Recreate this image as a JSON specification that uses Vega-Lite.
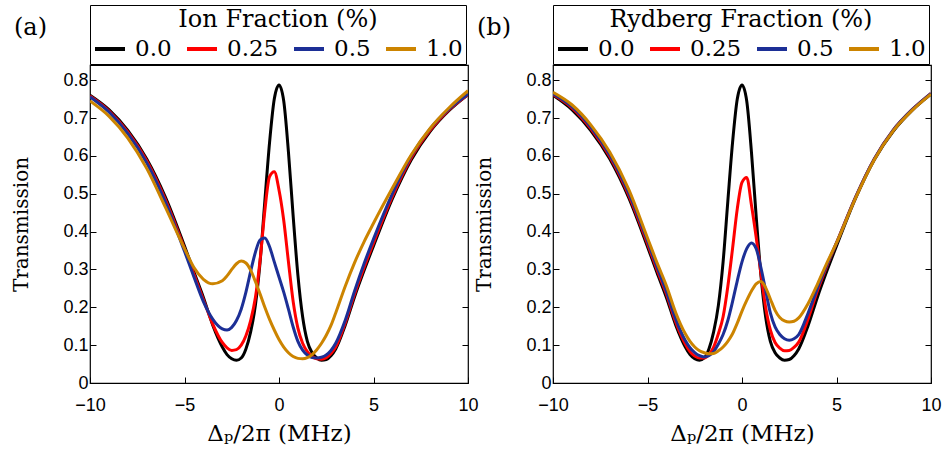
{
  "$schema": "https://vega.github.io/schema/vega-lite/v6.json",
  "background": "white",
  "padding": {"left": 11, "top": 3, "right": 0, "bottom": 0},
  "config": {
    "view": {"stroke": "black", "strokeWidth": 1.2},
    "axis": {"labelFont": "Liberation Sans", "labelFontSize": 18, "labelColor": "#000", "titleFont": "DejaVu Serif", "titleFontSize": 21, "titleFontWeight": "normal", "titleColor": "#000", "domain": false, "grid": false, "tickColor": "#000", "tickSize": -6, "labelPadding": 8, "labelFlush": false},
    "legend": {"orient": "none", "legendX": 0, "legendY": -60, "direction": "horizontal", "titleAnchor": "middle", "titleOrient": "top", "symbolType": "stroke", "symbolStrokeWidth": 4, "symbolSize": 900, "labelFont": "DejaVu Serif", "labelFontSize": 23, "labelColor": "#000", "titleFont": "DejaVu Serif", "titleFontSize": 24, "titleFontWeight": "normal", "titleColor": "#000", "titleLimit": 400, "strokeColor": "black", "padding": 3, "columnPadding": 7, "labelOffset": 8, "titlePadding": 0},
    "title": {"font": "DejaVu Serif", "fontSize": 24, "fontWeight": "normal", "color": "#000", "anchor": "start", "frame": "group"}
  },
  "datasets": {
    "ion": [
      {"x":-10,"T":0.760,"f":"0.0"},{"x":-9,"T":0.722,"f":"0.0"},{"x":-8,"T":0.667,"f":"0.0"},{"x":-7,"T":0.592,"f":"0.0"},{"x":-6,"T":0.490,"f":"0.0"},{"x":-5,"T":0.362,"f":"0.0"},{"x":-4.5,"T":0.293,"f":"0.0"},{"x":-4,"T":0.226,"f":"0.0"},{"x":-3.5,"T":0.152,"f":"0.0"},{"x":-3,"T":0.095,"f":"0.0"},{"x":-2.75,"T":0.075,"f":"0.0"},{"x":-2.5,"T":0.064,"f":"0.0"},{"x":-2.25,"T":0.060,"f":"0.0"},{"x":-2,"T":0.066,"f":"0.0"},{"x":-1.75,"T":0.09,"f":"0.0"},{"x":-1.5,"T":0.135,"f":"0.0"},{"x":-1.25,"T":0.205,"f":"0.0"},{"x":-1,"T":0.32,"f":"0.0"},{"x":-0.75,"T":0.48,"f":"0.0"},{"x":-0.5,"T":0.635,"f":"0.0"},{"x":-0.25,"T":0.75,"f":"0.0"},{"x":0,"T":0.787,"f":"0.0"},{"x":0.25,"T":0.745,"f":"0.0"},{"x":0.5,"T":0.61,"f":"0.0"},{"x":0.75,"T":0.44,"f":"0.0"},{"x":1,"T":0.285,"f":"0.0"},{"x":1.25,"T":0.175,"f":"0.0"},{"x":1.5,"T":0.11,"f":"0.0"},{"x":1.75,"T":0.08,"f":"0.0"},{"x":2,"T":0.066,"f":"0.0"},{"x":2.25,"T":0.060,"f":"0.0"},{"x":2.5,"T":0.062,"f":"0.0"},{"x":2.75,"T":0.072,"f":"0.0"},{"x":3,"T":0.09,"f":"0.0"},{"x":3.5,"T":0.152,"f":"0.0"},{"x":4,"T":0.228,"f":"0.0"},{"x":4.5,"T":0.297,"f":"0.0"},{"x":5,"T":0.362,"f":"0.0"},{"x":6,"T":0.487,"f":"0.0"},{"x":7,"T":0.59,"f":"0.0"},{"x":8,"T":0.665,"f":"0.0"},{"x":9,"T":0.72,"f":"0.0"},{"x":10,"T":0.762,"f":"0.0"},
      {"x":-10,"T":0.758,"f":"0.25"},{"x":-9,"T":0.719,"f":"0.25"},{"x":-8,"T":0.663,"f":"0.25"},{"x":-7,"T":0.587,"f":"0.25"},{"x":-6,"T":0.483,"f":"0.25"},{"x":-5,"T":0.355,"f":"0.25"},{"x":-4.5,"T":0.287,"f":"0.25"},{"x":-4,"T":0.22,"f":"0.25"},{"x":-3.5,"T":0.155,"f":"0.25"},{"x":-3,"T":0.107,"f":"0.25"},{"x":-2.75,"T":0.093,"f":"0.25"},{"x":-2.5,"T":0.086,"f":"0.25"},{"x":-2.25,"T":0.088,"f":"0.25"},{"x":-2,"T":0.10,"f":"0.25"},{"x":-1.75,"T":0.125,"f":"0.25"},{"x":-1.5,"T":0.165,"f":"0.25"},{"x":-1.25,"T":0.225,"f":"0.25"},{"x":-1,"T":0.325,"f":"0.25"},{"x":-0.75,"T":0.455,"f":"0.25"},{"x":-0.5,"T":0.545,"f":"0.25"},{"x":-0.25,"T":0.558,"f":"0.25"},{"x":0,"T":0.51,"f":"0.25"},{"x":0.25,"T":0.43,"f":"0.25"},{"x":0.5,"T":0.32,"f":"0.25"},{"x":0.75,"T":0.215,"f":"0.25"},{"x":1,"T":0.145,"f":"0.25"},{"x":1.25,"T":0.105,"f":"0.25"},{"x":1.5,"T":0.083,"f":"0.25"},{"x":1.75,"T":0.07,"f":"0.25"},{"x":2,"T":0.064,"f":"0.25"},{"x":2.25,"T":0.063,"f":"0.25"},{"x":2.5,"T":0.067,"f":"0.25"},{"x":2.75,"T":0.078,"f":"0.25"},{"x":3,"T":0.095,"f":"0.25"},{"x":3.5,"T":0.158,"f":"0.25"},{"x":4,"T":0.235,"f":"0.25"},{"x":4.5,"T":0.305,"f":"0.25"},{"x":5,"T":0.37,"f":"0.25"},{"x":6,"T":0.493,"f":"0.25"},{"x":7,"T":0.595,"f":"0.25"},{"x":8,"T":0.668,"f":"0.25"},{"x":9,"T":0.722,"f":"0.25"},{"x":10,"T":0.762,"f":"0.25"},
      {"x":-10,"T":0.756,"f":"0.5"},{"x":-9,"T":0.716,"f":"0.5"},{"x":-8,"T":0.659,"f":"0.5"},{"x":-7,"T":0.582,"f":"0.5"},{"x":-6,"T":0.477,"f":"0.5"},{"x":-5,"T":0.348,"f":"0.5"},{"x":-4.5,"T":0.28,"f":"0.5"},{"x":-4,"T":0.215,"f":"0.5"},{"x":-3.5,"T":0.168,"f":"0.5"},{"x":-3,"T":0.143,"f":"0.5"},{"x":-2.75,"T":0.140,"f":"0.5"},{"x":-2.5,"T":0.147,"f":"0.5"},{"x":-2.25,"T":0.165,"f":"0.5"},{"x":-2,"T":0.195,"f":"0.5"},{"x":-1.75,"T":0.24,"f":"0.5"},{"x":-1.5,"T":0.295,"f":"0.5"},{"x":-1.25,"T":0.345,"f":"0.5"},{"x":-1,"T":0.378,"f":"0.5"},{"x":-0.75,"T":0.383,"f":"0.5"},{"x":-0.5,"T":0.36,"f":"0.5"},{"x":-0.25,"T":0.32,"f":"0.5"},{"x":0,"T":0.28,"f":"0.5"},{"x":0.25,"T":0.24,"f":"0.5"},{"x":0.5,"T":0.195,"f":"0.5"},{"x":0.75,"T":0.148,"f":"0.5"},{"x":1,"T":0.11,"f":"0.5"},{"x":1.25,"T":0.087,"f":"0.5"},{"x":1.5,"T":0.074,"f":"0.5"},{"x":1.75,"T":0.067,"f":"0.5"},{"x":2,"T":0.066,"f":"0.5"},{"x":2.25,"T":0.068,"f":"0.5"},{"x":2.5,"T":0.074,"f":"0.5"},{"x":2.75,"T":0.086,"f":"0.5"},{"x":3,"T":0.105,"f":"0.5"},{"x":3.5,"T":0.165,"f":"0.5"},{"x":4,"T":0.243,"f":"0.5"},{"x":4.5,"T":0.315,"f":"0.5"},{"x":5,"T":0.38,"f":"0.5"},{"x":6,"T":0.50,"f":"0.5"},{"x":7,"T":0.60,"f":"0.5"},{"x":8,"T":0.672,"f":"0.5"},{"x":9,"T":0.724,"f":"0.5"},{"x":10,"T":0.763,"f":"0.5"},
      {"x":-10,"T":0.745,"f":"1.0"},{"x":-9,"T":0.705,"f":"1.0"},{"x":-8,"T":0.647,"f":"1.0"},{"x":-7,"T":0.567,"f":"1.0"},{"x":-6,"T":0.463,"f":"1.0"},{"x":-5,"T":0.355,"f":"1.0"},{"x":-4.5,"T":0.305,"f":"1.0"},{"x":-4,"T":0.274,"f":"1.0"},{"x":-3.5,"T":0.262,"f":"1.0"},{"x":-3,"T":0.27,"f":"1.0"},{"x":-2.75,"T":0.283,"f":"1.0"},{"x":-2.5,"T":0.30,"f":"1.0"},{"x":-2.25,"T":0.315,"f":"1.0"},{"x":-2,"T":0.322,"f":"1.0"},{"x":-1.75,"T":0.317,"f":"1.0"},{"x":-1.5,"T":0.298,"f":"1.0"},{"x":-1.25,"T":0.268,"f":"1.0"},{"x":-1,"T":0.235,"f":"1.0"},{"x":-0.75,"T":0.20,"f":"1.0"},{"x":-0.5,"T":0.168,"f":"1.0"},{"x":-0.25,"T":0.14,"f":"1.0"},{"x":0,"T":0.115,"f":"1.0"},{"x":0.25,"T":0.095,"f":"1.0"},{"x":0.5,"T":0.08,"f":"1.0"},{"x":0.75,"T":0.07,"f":"1.0"},{"x":1,"T":0.065,"f":"1.0"},{"x":1.25,"T":0.064,"f":"1.0"},{"x":1.5,"T":0.067,"f":"1.0"},{"x":1.75,"T":0.075,"f":"1.0"},{"x":2,"T":0.088,"f":"1.0"},{"x":2.25,"T":0.105,"f":"1.0"},{"x":2.5,"T":0.126,"f":"1.0"},{"x":2.75,"T":0.152,"f":"1.0"},{"x":3,"T":0.185,"f":"1.0"},{"x":3.5,"T":0.255,"f":"1.0"},{"x":4,"T":0.318,"f":"1.0"},{"x":4.5,"T":0.373,"f":"1.0"},{"x":5,"T":0.422,"f":"1.0"},{"x":6,"T":0.515,"f":"1.0"},{"x":7,"T":0.603,"f":"1.0"},{"x":8,"T":0.673,"f":"1.0"},{"x":9,"T":0.727,"f":"1.0"},{"x":10,"T":0.772,"f":"1.0"}
    ],
    "ryd": [
      {"x":-10,"T":0.760,"f":"0.0"},{"x":-9,"T":0.722,"f":"0.0"},{"x":-8,"T":0.667,"f":"0.0"},{"x":-7,"T":0.592,"f":"0.0"},{"x":-6,"T":0.490,"f":"0.0"},{"x":-5,"T":0.360,"f":"0.0"},{"x":-4.5,"T":0.292,"f":"0.0"},{"x":-4,"T":0.226,"f":"0.0"},{"x":-3.5,"T":0.152,"f":"0.0"},{"x":-3,"T":0.095,"f":"0.0"},{"x":-2.75,"T":0.075,"f":"0.0"},{"x":-2.5,"T":0.064,"f":"0.0"},{"x":-2.25,"T":0.060,"f":"0.0"},{"x":-2,"T":0.066,"f":"0.0"},{"x":-1.75,"T":0.09,"f":"0.0"},{"x":-1.5,"T":0.135,"f":"0.0"},{"x":-1.25,"T":0.205,"f":"0.0"},{"x":-1,"T":0.32,"f":"0.0"},{"x":-0.75,"T":0.48,"f":"0.0"},{"x":-0.5,"T":0.635,"f":"0.0"},{"x":-0.25,"T":0.75,"f":"0.0"},{"x":0,"T":0.787,"f":"0.0"},{"x":0.25,"T":0.745,"f":"0.0"},{"x":0.5,"T":0.61,"f":"0.0"},{"x":0.75,"T":0.44,"f":"0.0"},{"x":1,"T":0.285,"f":"0.0"},{"x":1.25,"T":0.175,"f":"0.0"},{"x":1.5,"T":0.11,"f":"0.0"},{"x":1.75,"T":0.08,"f":"0.0"},{"x":2,"T":0.066,"f":"0.0"},{"x":2.25,"T":0.060,"f":"0.0"},{"x":2.5,"T":0.062,"f":"0.0"},{"x":2.75,"T":0.072,"f":"0.0"},{"x":3,"T":0.09,"f":"0.0"},{"x":3.5,"T":0.152,"f":"0.0"},{"x":4,"T":0.228,"f":"0.0"},{"x":4.5,"T":0.297,"f":"0.0"},{"x":5,"T":0.362,"f":"0.0"},{"x":6,"T":0.487,"f":"0.0"},{"x":7,"T":0.59,"f":"0.0"},{"x":8,"T":0.665,"f":"0.0"},{"x":9,"T":0.72,"f":"0.0"},{"x":10,"T":0.763,"f":"0.0"},
      {"x":-10,"T":0.762,"f":"0.25"},{"x":-9,"T":0.727,"f":"0.25"},{"x":-8,"T":0.672,"f":"0.25"},{"x":-7,"T":0.598,"f":"0.25"},{"x":-6,"T":0.497,"f":"0.25"},{"x":-5,"T":0.368,"f":"0.25"},{"x":-4.5,"T":0.30,"f":"0.25"},{"x":-4,"T":0.235,"f":"0.25"},{"x":-3.5,"T":0.16,"f":"0.25"},{"x":-3,"T":0.103,"f":"0.25"},{"x":-2.75,"T":0.083,"f":"0.25"},{"x":-2.5,"T":0.071,"f":"0.25"},{"x":-2.25,"T":0.066,"f":"0.25"},{"x":-2,"T":0.066,"f":"0.25"},{"x":-1.75,"T":0.075,"f":"0.25"},{"x":-1.5,"T":0.095,"f":"0.25"},{"x":-1.25,"T":0.13,"f":"0.25"},{"x":-1,"T":0.175,"f":"0.25"},{"x":-0.75,"T":0.255,"f":"0.25"},{"x":-0.5,"T":0.355,"f":"0.25"},{"x":-0.25,"T":0.46,"f":"0.25"},{"x":0,"T":0.53,"f":"0.25"},{"x":0.25,"T":0.543,"f":"0.25"},{"x":0.5,"T":0.47,"f":"0.25"},{"x":0.75,"T":0.385,"f":"0.25"},{"x":1,"T":0.29,"f":"0.25"},{"x":1.25,"T":0.20,"f":"0.25"},{"x":1.5,"T":0.14,"f":"0.25"},{"x":1.75,"T":0.107,"f":"0.25"},{"x":2,"T":0.092,"f":"0.25"},{"x":2.25,"T":0.085,"f":"0.25"},{"x":2.5,"T":0.086,"f":"0.25"},{"x":2.75,"T":0.094,"f":"0.25"},{"x":3,"T":0.108,"f":"0.25"},{"x":3.5,"T":0.17,"f":"0.25"},{"x":4,"T":0.245,"f":"0.25"},{"x":4.5,"T":0.31,"f":"0.25"},{"x":5,"T":0.37,"f":"0.25"},{"x":6,"T":0.49,"f":"0.25"},{"x":7,"T":0.592,"f":"0.25"},{"x":8,"T":0.668,"f":"0.25"},{"x":9,"T":0.722,"f":"0.25"},{"x":10,"T":0.765,"f":"0.25"},
      {"x":-10,"T":0.764,"f":"0.5"},{"x":-9,"T":0.73,"f":"0.5"},{"x":-8,"T":0.676,"f":"0.5"},{"x":-7,"T":0.603,"f":"0.5"},{"x":-6,"T":0.503,"f":"0.5"},{"x":-5,"T":0.375,"f":"0.5"},{"x":-4.5,"T":0.307,"f":"0.5"},{"x":-4,"T":0.242,"f":"0.5"},{"x":-3.5,"T":0.168,"f":"0.5"},{"x":-3,"T":0.112,"f":"0.5"},{"x":-2.75,"T":0.093,"f":"0.5"},{"x":-2.5,"T":0.08,"f":"0.5"},{"x":-2.25,"T":0.072,"f":"0.5"},{"x":-2,"T":0.069,"f":"0.5"},{"x":-1.75,"T":0.072,"f":"0.5"},{"x":-1.5,"T":0.083,"f":"0.5"},{"x":-1.25,"T":0.103,"f":"0.5"},{"x":-1,"T":0.128,"f":"0.5"},{"x":-0.75,"T":0.165,"f":"0.5"},{"x":-0.5,"T":0.215,"f":"0.5"},{"x":-0.25,"T":0.27,"f":"0.5"},{"x":0,"T":0.32,"f":"0.5"},{"x":0.25,"T":0.355,"f":"0.5"},{"x":0.5,"T":0.37,"f":"0.5"},{"x":0.75,"T":0.355,"f":"0.5"},{"x":1,"T":0.305,"f":"0.5"},{"x":1.25,"T":0.245,"f":"0.5"},{"x":1.5,"T":0.185,"f":"0.5"},{"x":1.75,"T":0.148,"f":"0.5"},{"x":2,"T":0.128,"f":"0.5"},{"x":2.25,"T":0.117,"f":"0.5"},{"x":2.5,"T":0.113,"f":"0.5"},{"x":2.75,"T":0.117,"f":"0.5"},{"x":3,"T":0.128,"f":"0.5"},{"x":3.5,"T":0.185,"f":"0.5"},{"x":4,"T":0.252,"f":"0.5"},{"x":4.5,"T":0.313,"f":"0.5"},{"x":5,"T":0.37,"f":"0.5"},{"x":6,"T":0.49,"f":"0.5"},{"x":7,"T":0.592,"f":"0.5"},{"x":8,"T":0.668,"f":"0.5"},{"x":9,"T":0.722,"f":"0.5"},{"x":10,"T":0.765,"f":"0.5"},
      {"x":-10,"T":0.768,"f":"1.0"},{"x":-9,"T":0.735,"f":"1.0"},{"x":-8,"T":0.682,"f":"1.0"},{"x":-7,"T":0.61,"f":"1.0"},{"x":-6,"T":0.512,"f":"1.0"},{"x":-5,"T":0.383,"f":"1.0"},{"x":-4.5,"T":0.318,"f":"1.0"},{"x":-4,"T":0.257,"f":"1.0"},{"x":-3.5,"T":0.185,"f":"1.0"},{"x":-3,"T":0.13,"f":"1.0"},{"x":-2.75,"T":0.11,"f":"1.0"},{"x":-2.5,"T":0.095,"f":"1.0"},{"x":-2.25,"T":0.085,"f":"1.0"},{"x":-2,"T":0.08,"f":"1.0"},{"x":-1.75,"T":0.077,"f":"1.0"},{"x":-1.5,"T":0.078,"f":"1.0"},{"x":-1.25,"T":0.085,"f":"1.0"},{"x":-1,"T":0.095,"f":"1.0"},{"x":-0.75,"T":0.11,"f":"1.0"},{"x":-0.5,"T":0.13,"f":"1.0"},{"x":-0.25,"T":0.158,"f":"1.0"},{"x":0,"T":0.19,"f":"1.0"},{"x":0.25,"T":0.218,"f":"1.0"},{"x":0.5,"T":0.243,"f":"1.0"},{"x":0.75,"T":0.262,"f":"1.0"},{"x":1,"T":0.268,"f":"1.0"},{"x":1.25,"T":0.252,"f":"1.0"},{"x":1.5,"T":0.222,"f":"1.0"},{"x":1.75,"T":0.192,"f":"1.0"},{"x":2,"T":0.173,"f":"1.0"},{"x":2.25,"T":0.164,"f":"1.0"},{"x":2.5,"T":0.161,"f":"1.0"},{"x":2.75,"T":0.163,"f":"1.0"},{"x":3,"T":0.172,"f":"1.0"},{"x":3.5,"T":0.21,"f":"1.0"},{"x":4,"T":0.262,"f":"1.0"},{"x":4.5,"T":0.318,"f":"1.0"},{"x":5,"T":0.37,"f":"1.0"},{"x":6,"T":0.488,"f":"1.0"},{"x":7,"T":0.59,"f":"1.0"},{"x":8,"T":0.666,"f":"1.0"},{"x":9,"T":0.72,"f":"1.0"},{"x":10,"T":0.763,"f":"1.0"}
    ]
  },
  "hconcat": [
    {
      "width": 378, "height": 318,
      "title": {"text": "(a)", "dx": -76, "dy": 35, "offset": 0},
      "data": {"name": "ion"},
      "layer": [
        {
          "mark": {"type": "line", "strokeWidth": 3, "interpolate": "monotone", "clip": true},
          "encoding": {
            "x": {"field": "x", "type": "quantitative", "scale": {"domain": [-10, 10], "nice": false}, "axis": {"values": [-10, -5, 0, 5, 10], "title": "Δₚ/2π (MHz)", "titleFont": "DejaVu Serif", "titleFontSize": 23, "titlePadding": 8, "labelPadding": 19}},
            "y": {"field": "T", "type": "quantitative", "scale": {"domain": [0, 0.84], "nice": false}, "axis": {"values": [0, 0.1, 0.2, 0.3, 0.4, 0.5, 0.6, 0.7, 0.8], "format": ".1~f", "title": "Transmission", "titleFont": "DejaVu Serif", "titleFontSize": 20, "titlePadding": 31}},
            "color": {"field": "f", "type": "nominal", "sort": ["0.0", "0.25", "0.5", "1.0"], "scale": {"domain": ["0.0", "0.25", "0.5", "1.0"], "range": ["#000000", "#ff0000", "#1c2f96", "#cc8400"]}, "legend": {"title": "Ion Fraction (%)", "titleFontWeight": "normal"}}
          }
        },
        {
          "mark": {"type": "line", "strokeOpacity": 0},
          "encoding": {
            "x": {"field": "x", "type": "quantitative", "axis": {"values": [-10, -5, 0, 5, 10], "title": "Δₚ/2π (MHz)", "titleFont": "DejaVu Serif", "titleFontSize": 23, "titlePadding": 8, "labelPadding": 19}},
            "y": {"field": "T", "type": "quantitative", "axis": {"orient": "right", "labels": false, "title": null, "values": [0.1, 0.2, 0.3, 0.4, 0.5, 0.6, 0.7, 0.8]}},
            "detail": {"field": "f"}
          }
        }
      ],
      "resolve": {"axis": {"y": "independent"}}
    },
    {
      "width": 378, "height": 318,
      "title": {"text": "(b)", "dx": -76, "dy": 35, "offset": 0},
      "data": {"name": "ryd"},
      "layer": [
        {
          "mark": {"type": "line", "strokeWidth": 3, "interpolate": "monotone", "clip": true},
          "encoding": {
            "x": {"field": "x", "type": "quantitative", "scale": {"domain": [-10, 10], "nice": false}, "axis": {"values": [-10, -5, 0, 5, 10], "title": "Δₚ/2π (MHz)", "titleFont": "DejaVu Serif", "titleFontSize": 23, "titlePadding": 8, "labelPadding": 19}},
            "y": {"field": "T", "type": "quantitative", "scale": {"domain": [0, 0.84], "nice": false}, "axis": {"values": [0, 0.1, 0.2, 0.3, 0.4, 0.5, 0.6, 0.7, 0.8], "format": ".1~f", "title": "Transmission", "titleFont": "DejaVu Serif", "titleFontSize": 20, "titlePadding": 31}},
            "color": {"field": "f", "type": "nominal", "sort": ["0.0", "0.25", "0.5", "1.0"], "scale": {"domain": ["0.0", "0.25", "0.5", "1.0"], "range": ["#000000", "#ff0000", "#1c2f96", "#cc8400"]}, "legend": {"title": "Rydberg Fraction (%)", "titleFontWeight": "normal"}}
          }
        },
        {
          "mark": {"type": "line", "strokeOpacity": 0},
          "encoding": {
            "x": {"field": "x", "type": "quantitative", "axis": {"values": [-10, -5, 0, 5, 10], "title": "Δₚ/2π (MHz)", "titleFont": "DejaVu Serif", "titleFontSize": 23, "titlePadding": 8, "labelPadding": 19}},
            "y": {"field": "T", "type": "quantitative", "axis": {"orient": "right", "labels": false, "title": null, "values": [0.1, 0.2, 0.3, 0.4, 0.5, 0.6, 0.7, 0.8]}},
            "detail": {"field": "f"}
          }
        }
      ],
      "resolve": {"axis": {"y": "independent"}}
    }
  ],
  "spacing": -5,
  "resolve": {"scale": {"color": "independent"}, "legend": {"color": "independent"}}
}
